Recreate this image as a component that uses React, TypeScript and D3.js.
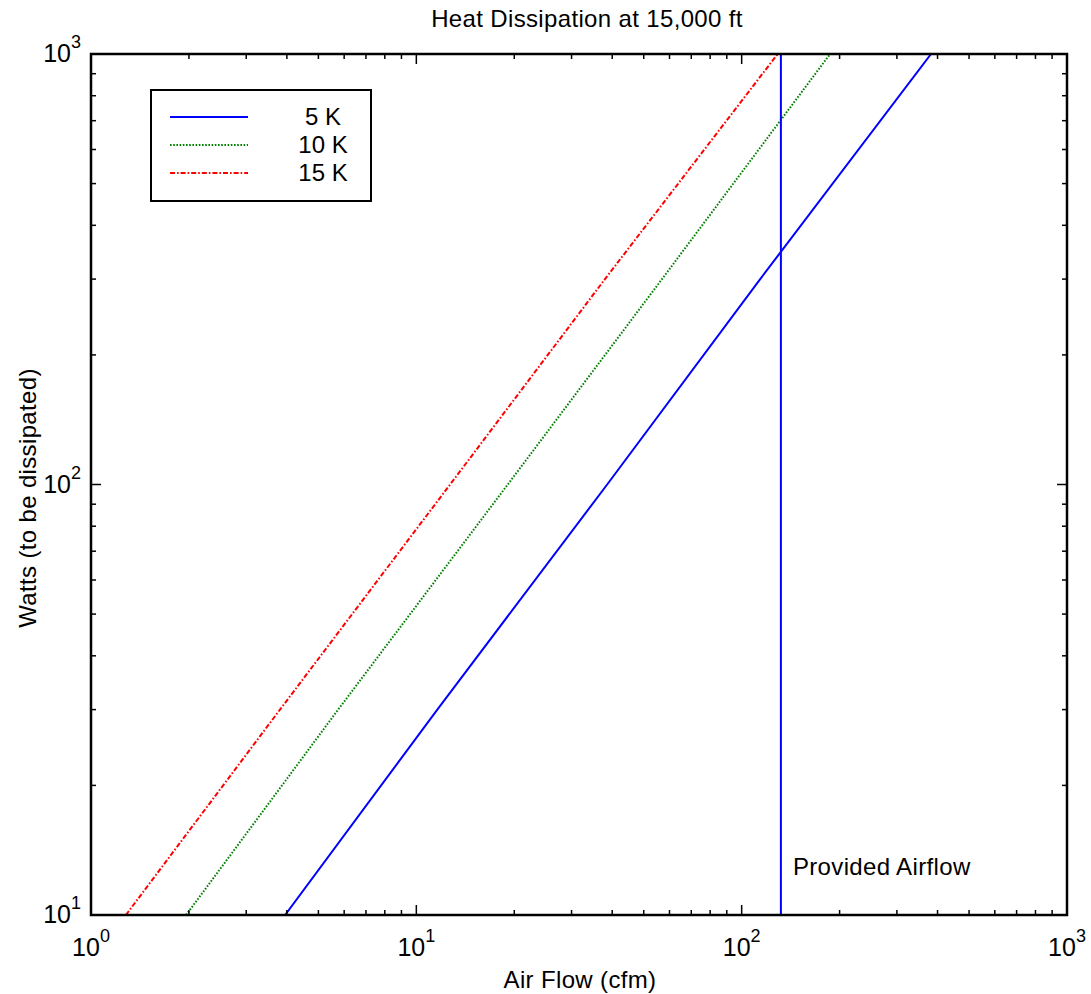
import React from "react";
import * as d3 from "d3";

// ---- Data ----
const watts = [10, 30, 100, 300, 1000];
const cfm5K = [3.95, 11.6, 38.6, 114, 382];
const cfm10K = [1.96, 5.75, 19.1, 56.9, 187];
const cfm15K = [1.28, 3.81, 12.7, 38.0, 129];
const seriesNames = ["5 K", "10 K", "15 K"];
const providedAirflow = 132;
const xDecades = [0, 1, 2, 3];
const yDecades = [1, 2, 3];

const W = 1091;
const H = 994;
const M = { left: 91, right: 1067, top: 54, bottom: 915 };
const FONT = "Liberation Sans, Arial, Helvetica, sans-serif";

export default function App() {
  const x = d3.scaleLog().domain([1, 1000]).range([M.left, M.right]);
  const y = d3.scaleLog().domain([10, 1000]).range([M.bottom, M.top]);

  const series = [
    { name: seriesNames[0], xs: cfm5K, color: "#0000ff", dash: undefined as string | undefined },
    { name: seriesNames[1], xs: cfm10K, color: "#008000", dash: "1.6,1.6" },
    { name: seriesNames[2], xs: cfm15K, color: "#ff0000", dash: "5,2,1.6,2" },
  ];

  const line = d3
    .line<[number, number]>()
    .x((d) => x(d[0]))
    .y((d) => y(d[1]));

  const xMajor = xDecades.map((e) => Math.pow(10, e));
  const yMajor = yDecades.map((e) => Math.pow(10, e));
  const xMinor: number[] = [];
  for (let e = 0; e < 3; e++) for (let m = 2; m <= 9; m++) xMinor.push(m * Math.pow(10, e));
  const yMinor: number[] = [];
  for (let e = 1; e < 3; e++) for (let m = 2; m <= 9; m++) yMinor.push(m * Math.pow(10, e));

  const majLen = 10;
  const minLen = 5;
  const ls = 0.35;

  return (
    <svg
      width={W}
      height={H}
      style={{ position: "absolute", left: 0, top: 0, background: "#fff" }}
      fontFamily={FONT}
    >
      <rect x={0} y={0} width={W} height={H} fill="#fff" />
      <defs>
        <clipPath id="plotClip">
          <rect x={M.left} y={M.top} width={M.right - M.left} height={M.bottom - M.top} />
        </clipPath>
      </defs>

      {/* title */}
      <text x={587} y={27} textAnchor="middle" fontSize={24} letterSpacing={ls}>
        Heat Dissipation at 15,000 ft
      </text>

      {/* curves */}
      <g clipPath="url(#plotClip)">
        {series.map((s) => (
          <path
            key={s.name}
            d={line(s.xs.map((c, i) => [c, watts[i]] as [number, number])) || ""}
            fill="none"
            stroke={s.color}
            strokeWidth={2}
            strokeDasharray={s.dash}
          />
        ))}
        <line
          x1={x(providedAirflow)}
          x2={x(providedAirflow)}
          y1={y(10)}
          y2={y(1000)}
          stroke="#0000ff"
          strokeWidth={2}
        />
      </g>

      <text x={x(providedAirflow) + 12} y={875} fontSize={24} letterSpacing={ls}>
        Provided Airflow
      </text>

      {/* ticks */}
      <g stroke="#000" strokeWidth={1.5}>
        {xMajor.map((v) => (
          <g key={"xM" + v}>
            <line x1={x(v)} x2={x(v)} y1={M.bottom} y2={M.bottom - majLen} />
            <line x1={x(v)} x2={x(v)} y1={M.top} y2={M.top + majLen} />
          </g>
        ))}
        {xMinor.map((v) => (
          <g key={"xm" + v}>
            <line x1={x(v)} x2={x(v)} y1={M.bottom} y2={M.bottom - minLen} />
            <line x1={x(v)} x2={x(v)} y1={M.top} y2={M.top + minLen} />
          </g>
        ))}
        {yMajor.map((v) => (
          <g key={"yM" + v}>
            <line x1={M.left} x2={M.left + majLen} y1={y(v)} y2={y(v)} />
            <line x1={M.right} x2={M.right - majLen} y1={y(v)} y2={y(v)} />
          </g>
        ))}
        {yMinor.map((v) => (
          <g key={"ym" + v}>
            <line x1={M.left} x2={M.left + minLen} y1={y(v)} y2={y(v)} />
            <line x1={M.right} x2={M.right - minLen} y1={y(v)} y2={y(v)} />
          </g>
        ))}
      </g>

      {/* frame */}
      <rect
        x={M.left}
        y={M.top}
        width={M.right - M.left}
        height={M.bottom - M.top}
        fill="none"
        stroke="#000"
        strokeWidth={2.5}
      />

      {/* tick labels */}
      {xDecades.map((e) => (
        <text key={"xl" + e} x={x(Math.pow(10, e))} y={956} textAnchor="middle" fontSize={25}>
          10
          <tspan dy={-14} fontSize={18}>
            {e}
          </tspan>
        </text>
      ))}
      {yDecades.map((e) => (
        <text key={"yl" + e} x={M.left - 10} y={y(Math.pow(10, e)) + 8} textAnchor="end" fontSize={25}>
          10
          <tspan dy={-14} fontSize={18}>
            {e}
          </tspan>
        </text>
      ))}

      {/* axis titles */}
      <text x={580} y={988} textAnchor="middle" fontSize={24} letterSpacing={ls}>
        Air Flow (cfm)
      </text>
      <text
        transform={`translate(36, 498) rotate(-90)`}
        textAnchor="middle"
        fontSize={24}
        letterSpacing={ls}
      >
        Watts (to be dissipated)
      </text>

      {/* legend */}
      <rect x={151} y={90} width={220} height={111} fill="#fff" stroke="#000" strokeWidth={2} />
      {series.map((s, i) => (
        <g key={"lg" + s.name}>
          <line
            x1={170}
            x2={248}
            y1={117 + i * 28}
            y2={117 + i * 28}
            stroke={s.color}
            strokeWidth={2}
            strokeDasharray={s.dash}
          />
          <text x={323} y={125 + i * 28} textAnchor="middle" fontSize={24}>
            {s.name}
          </text>
        </g>
      ))}
    </svg>
  );
}
